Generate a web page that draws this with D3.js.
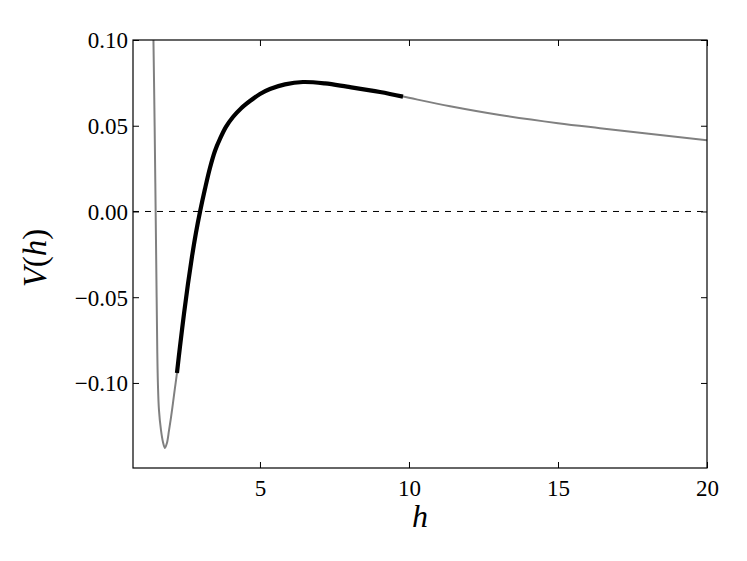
<!DOCTYPE html>
<html>
<head>
<meta charset="utf-8">
<script src="https://cdn.jsdelivr.net/npm/d3@7"></script>
<style>
  html, body { margin: 0; padding: 0; background: #fff; }
  svg { display: block; }
  text { font-family: "Liberation Serif", "DejaVu Serif", serif; fill: #000; }
</style>
</head>
<body>
<svg id="chart" width="747" height="561"></svg>
<script>
// ---- data ----
const hLeft   = [1.40, 1.426, 1.466, 1.500, 1.533, 1.554, 1.577, 1.611, 1.678, 1.745, 1.812, 1.879, 1.946, 2.013, 2.081, 2.148];
const vLeft   = [0.13, 0.10, 0.0499, 0.0, -0.0499, -0.0808, -0.1012, -0.1157, -0.1274, -0.1344, -0.1379, -0.1350, -0.1280, -0.1204, -0.1117, -0.1029];
const hBlack  = [2.215, 2.315, 2.450, 2.584, 2.718, 2.852, 2.987, 3.154, 3.322, 3.490, 3.658, 3.859, 4.094, 4.362, 4.664, 5.0, 5.336, 5.839, 6.443, 7.181, 7.919, 9.027, 9.799];
const vBlack  = [-0.0942, -0.0790, -0.0598, -0.0423, -0.0265, -0.0125, -0.0003, 0.0131, 0.0254, 0.0353, 0.0423, 0.0493, 0.0551, 0.0601, 0.0644, 0.0685, 0.0714, 0.0741, 0.0755, 0.0747, 0.0728, 0.0697, 0.0670];
const hRight  = [11.38, 13.05, 15.0, 16.41, 20.0];
const vRight  = [0.0614, 0.0563, 0.0515, 0.0486, 0.0416];
const xTicks  = [5, 10, 15, 20];
const yTicks  = [0.10, 0.05, 0.00, -0.05, -0.10];
const xDomain = [0.74, 20];
const yDomain = [-0.1496, 0.10];

(function () {
const FONT = '"Liberation Serif", "DejaVu Serif", serif';
const L = 133, R = 707, T = 40, B = 468;
const svg = d3.select("#chart");
const x = d3.scaleLinear().domain(xDomain).range([L, R]);
const y = d3.scaleLinear().domain(yDomain).range([B, T]);

svg.append("defs").append("clipPath").attr("id", "clip")
  .append("rect").attr("x", L).attr("y", T).attr("width", R - L).attr("height", B - T);

const gray = hLeft.map((h, i) => [h, vLeft[i]])
  .concat(hBlack.map((h, i) => [h, vBlack[i]]))
  .concat(hRight.map((h, i) => [h, vRight[i]]));
const black = hBlack.map((h, i) => [h, vBlack[i]]);

const line = d3.line().x(d => x(d[0])).y(d => y(d[1])).curve(d3.curveCatmullRom.alpha(0.5));

const g = svg.append("g").attr("clip-path", "url(#clip)");
g.append("line")
  .attr("x1", L).attr("x2", R).attr("y1", y(0)).attr("y2", y(0))
  .attr("stroke", "#000").attr("stroke-width", 1).attr("stroke-dasharray", "6,6");
g.append("path").datum(gray).attr("d", line)
  .attr("fill", "none").attr("stroke", "#808080").attr("stroke-width", 2);
g.append("path").datum(black).attr("d", line)
  .attr("fill", "none").attr("stroke", "#000").attr("stroke-width", 4.2);

const tl = 6;
const axB = svg.append("g").attr("transform", `translate(0,${B})`)
  .call(d3.axisBottom(x).tickValues(xTicks).tickSizeInner(-tl).tickSizeOuter(0).tickPadding(12).tickFormat(d3.format("d")));
const axT = svg.append("g").attr("transform", `translate(0,${T})`)
  .call(d3.axisTop(x).tickValues(xTicks).tickSizeInner(-tl).tickSizeOuter(0).tickFormat(""));
const axL = svg.append("g").attr("transform", `translate(${L},0)`)
  .call(d3.axisLeft(y).tickValues(yTicks).tickSizeInner(-tl).tickSizeOuter(0).tickPadding(5)
    .tickFormat(d => d3.format(".2f")(d).replace("-", "\u2212")));
const axR = svg.append("g").attr("transform", `translate(${R},0)`)
  .call(d3.axisRight(y).tickValues(yTicks).tickSizeInner(-tl).tickSizeOuter(0).tickFormat(""));

[axB, axT, axL, axR].forEach(a => {
  a.attr("font-family", FONT).attr("font-size", 23);
  a.select(".domain").remove();
  a.selectAll(".tick line").attr("stroke", "#000").attr("stroke-width", 1);
  a.selectAll(".tick text").style("font-family", FONT).style("font-size", "23px").attr("fill", "#000");
});
axB.selectAll(".tick text").attr("dy", "0.71em");
axL.selectAll(".tick text").attr("dy", "0.34em");

svg.append("rect").attr("x", L).attr("y", T).attr("width", R - L).attr("height", B - T)
  .attr("fill", "none").attr("stroke", "#000").attr("stroke-width", 1.2);

svg.append("text").attr("x", (L + R) / 2).attr("y", 527).attr("text-anchor", "middle")
  .style("font-family", FONT).style("font-size", "32px").style("font-style", "italic").text("h");
const yl = svg.append("text").attr("transform", `translate(46,258) rotate(-90)`)
  .attr("text-anchor", "middle").style("font-family", FONT).style("font-size", "33px");
yl.append("tspan").style("font-style", "italic").text("V");
yl.append("tspan").text("(");
yl.append("tspan").style("font-style", "italic").text("h");
yl.append("tspan").text(")");
})();
</script>
</body>
</html>
